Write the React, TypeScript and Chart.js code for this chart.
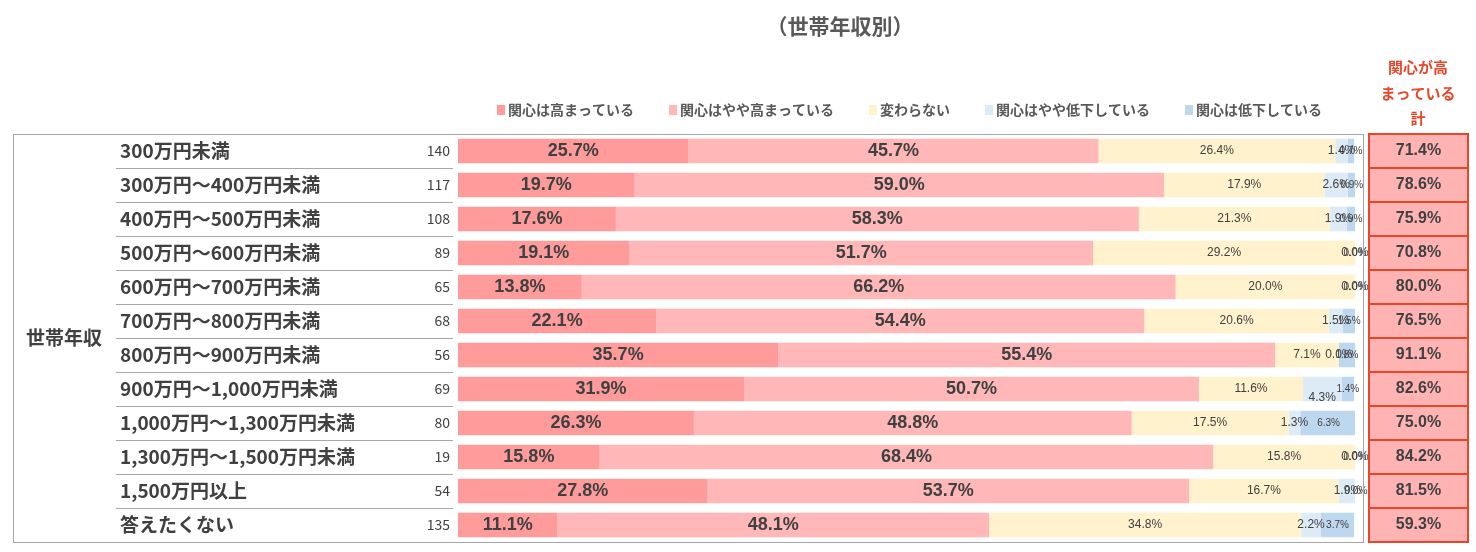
import React, { useEffect, useRef } from 'react';
import { Chart, registerables } from 'chart.js';

Chart.register(...registerables);

const titleText = '（世帯年収別）';
const groupLabel = '世帯年収';
const totalHeader = ['関心が高', 'まっている', '計'];

const categories = [
  '300万円未満',
  '300万円～400万円未満',
  '400万円～500万円未満',
  '500万円～600万円未満',
  '600万円～700万円未満',
  '700万円～800万円未満',
  '800万円～900万円未満',
  '900万円～1,000万円未満',
  '1,000万円～1,300万円未満',
  '1,300万円～1,500万円未満',
  '1,500万円以上',
  '答えたくない',
];
const counts = [140, 117, 108, 89, 65, 68, 56, 69, 80, 19, 54, 135];

const seriesNames = ['関心は高まっている', '関心はやや高まっている', '変わらない', '関心はやや低下している', '関心は低下している'];
const highUp = [25.7, 19.7, 17.6, 19.1, 13.8, 22.1, 35.7, 31.9, 26.3, 15.8, 27.8, 11.1];
const slightlyUp = [45.7, 59.0, 58.3, 51.7, 66.2, 54.4, 55.4, 50.7, 48.8, 68.4, 53.7, 48.1];
const unchanged = [26.4, 17.9, 21.3, 29.2, 20.0, 20.6, 7.1, 11.6, 17.5, 15.8, 16.7, 34.8];
const slightlyDown = [1.4, 2.6, 1.9, 0.0, 0.0, 1.5, 0.0, 4.3, 1.3, 0.0, 1.9, 2.2];
const down = [0.7, 0.9, 0.9, 0.0, 0.0, 1.5, 1.8, 1.4, 6.3, 0.0, 0.0, 3.7];
const totals = [71.4, 78.6, 75.9, 70.8, 80.0, 76.5, 91.1, 82.6, 75.0, 84.2, 81.5, 59.3];

const seriesColors = ['#ff9b9b', '#ffb7b7', '#fff2cc', '#ddebf7', '#bdd7ee'];

const W = 1476;
const H = 552;
const CJK = '"Noto Sans CJK JP", "Noto Sans", sans-serif';
const LAT = '"Liberation Sans", Arial, sans-serif';
const TEXT = '#404040';
const GRID = '#a6a6a6';
const ACCENT = '#e8462a';

const decorPlugin = {
  id: 'decor',
  afterDatasetsDraw(chart: any) {
    const ctx = chart.ctx as CanvasRenderingContext2D;
    const xScale = chart.scales.x;
    ctx.save();
    ctx.textAlign = 'center';
    ctx.textBaseline = 'middle';
    ctx.fillStyle = TEXT;
    chart.data.datasets.forEach((ds: any, di: number) => {
      const meta = chart.getDatasetMeta(di);
      meta.data.forEach((bar: any, i: number) => {
        const v = ds.data[i] as number;
        let start = 0;
        for (let k = 0; k < di; k++) start += chart.data.datasets[k].data[i] as number;
        const cx = xScale.getPixelForValue(start + v / 2);
        let cy = bar.y;
        if (di <= 1) ctx.font = `bold 18px ${LAT}`;
        else if (di <= 3) ctx.font = `12px ${LAT}`;
        else ctx.font = `10px ${LAT}`;
        // the reference pushes one crowded label below its bar centre
        if (di === 3 && v > 4) cy += 9;
        ctx.fillText(`${v.toFixed(1)}%`, cx, cy);
      });
    });
    ctx.restore();
  },
  afterDraw(chart: any) {
    const ctx = chart.ctx as CanvasRenderingContext2D;
    const area = chart.chartArea;
    const yScale = chart.scales.y;
    const n = categories.length;
    const rowH = (area.bottom - area.top) / n;
    ctx.save();

    // title
    ctx.fillStyle = '#595959';
    ctx.font = `bold 21px ${CJK}`;
    ctx.textAlign = 'center';
    ctx.textBaseline = 'middle';
    ctx.fillText(titleText, 840, 26);

    // legend
    ctx.font = `bold 14px ${CJK}`;
    ctx.textAlign = 'left';
    let lx = 497;
    const ly = 110;
    seriesNames.forEach((name, i) => {
      ctx.fillStyle = seriesColors[i];
      ctx.fillRect(lx, ly - 5, 8, 10);
      ctx.fillStyle = '#595959';
      ctx.fillText(name, lx + 11, ly);
      lx += 11 + ctx.measureText(name).width + 35;
    });

    // total header
    ctx.fillStyle = ACCENT;
    ctx.font = `bold 15px ${CJK}`;
    ctx.textAlign = 'center';
    [67, 93, 118].forEach((y, i) => ctx.fillText(totalHeader[i], 1418, y));

    // table frame
    ctx.strokeStyle = GRID;
    ctx.lineWidth = 1;
    ctx.strokeRect(13.5, area.top + 0.5, 1363 - 13, area.bottom - area.top);
    for (let i = 1; i < n; i++) {
      const y = Math.round(area.top + rowH * i) + 0.5;
      ctx.beginPath();
      ctx.moveTo(116, y);
      ctx.lineTo(453, y);
      ctx.stroke();
    }

    // group label
    ctx.fillStyle = TEXT;
    ctx.font = `bold 19px ${CJK}`;
    ctx.textAlign = 'center';
    ctx.fillText(groupLabel, 64, (area.top + area.bottom) / 2);

    // category labels and counts
    categories.forEach((c, i) => {
      const y = yScale.getPixelForValue(i);
      ctx.fillStyle = TEXT;
      ctx.font = `bold 19px ${CJK}`;
      ctx.textAlign = 'left';
      ctx.fillText(c, 120, y);
      ctx.font = `14px ${CJK}`;
      ctx.textAlign = 'right';
      ctx.fillText(String(counts[i]), 450, y);
    });

    // totals column
    const cx0 = 1369;
    const cx1 = 1468;
    ctx.fillStyle = '#ffb3b3';
    ctx.fillRect(cx0, area.top, cx1 - cx0, area.bottom - area.top);
    ctx.strokeStyle = ACCENT;
    ctx.lineWidth = 2;
    ctx.strokeRect(cx0, area.top, cx1 - cx0, area.bottom - area.top);
    for (let i = 1; i < n; i++) {
      const y = Math.round(area.top + rowH * i);
      ctx.beginPath();
      ctx.moveTo(cx0, y);
      ctx.lineTo(cx1, y);
      ctx.stroke();
    }
    ctx.fillStyle = TEXT;
    ctx.font = `bold 16px ${LAT}`;
    ctx.textAlign = 'center';
    totals.forEach((t, i) => {
      ctx.fillText(`${t.toFixed(1)}%`, (cx0 + cx1) / 2, yScale.getPixelForValue(i));
    });
    ctx.restore();
  },
};

export default function App() {
  const ref = useRef<HTMLCanvasElement | null>(null);
  useEffect(() => {
    if (!ref.current) return;
    const values = [highUp, slightlyUp, unchanged, slightlyDown, down];
    const chart = new Chart(ref.current, {
      type: 'bar',
      data: {
        labels: categories,
        datasets: seriesNames.map((name, i) => ({
          label: name,
          data: values[i],
          backgroundColor: seriesColors[i],
          borderWidth: 0,
          barPercentage: 0.72,
          categoryPercentage: 1,
        })),
      },
      options: {
        indexAxis: 'y',
        responsive: false,
        animation: false,
        layout: { padding: { left: 458, right: W - 1355, top: 134, bottom: H - 542 } },
        plugins: { legend: { display: false }, title: { display: false }, tooltip: { enabled: false } },
        scales: {
          x: { stacked: true, min: 0, max: 100, display: false },
          y: { stacked: true, display: false },
        },
      },
      plugins: [decorPlugin],
    });
    return () => chart.destroy();
  }, []);
  return (
    <div style={{ position: 'absolute', left: 0, top: 0, width: W, height: H, background: '#fff' }}>
      <canvas ref={ref} width={W} height={H} style={{ width: W, height: H, display: 'block' }} />
    </div>
  );
}
